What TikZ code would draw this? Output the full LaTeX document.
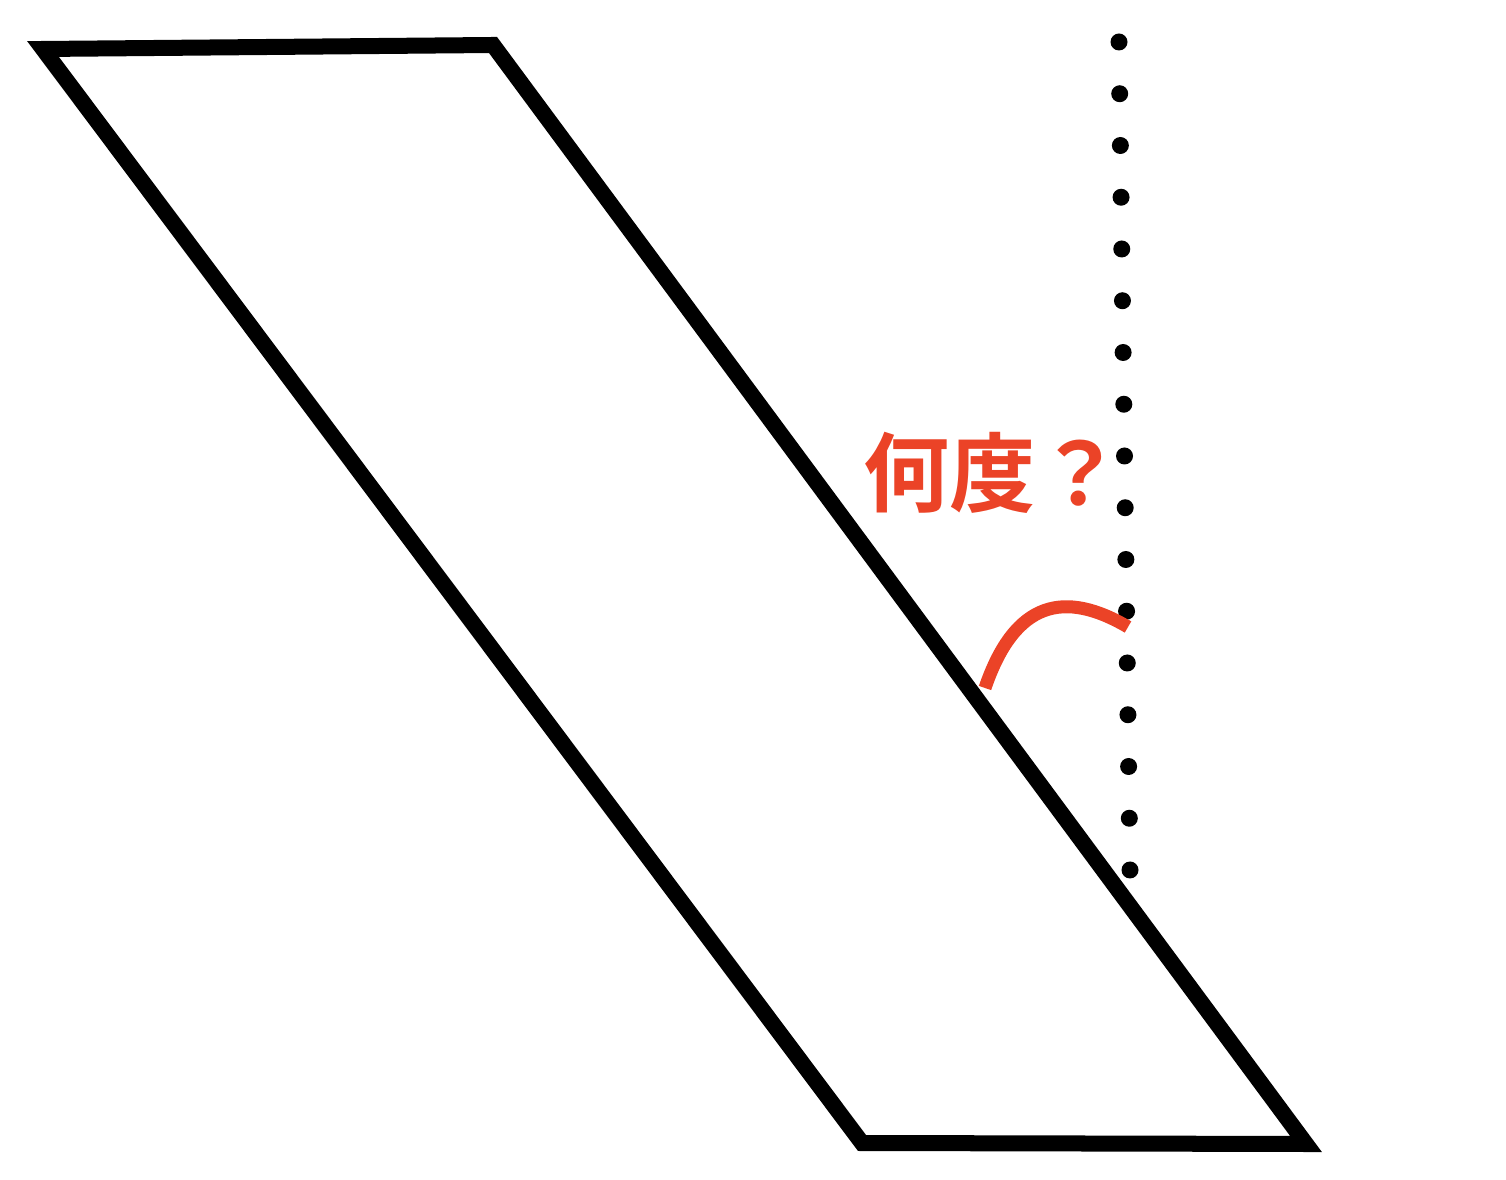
\documentclass[tikz,border=0pt]{standalone}
\usepackage{fontspec}
\newfontfamily\cjk{Noto Sans CJK JP Bold}
\definecolor{angred}{HTML}{EB4327}
\begin{document}
\begin{tikzpicture}[x=0.01cm,y=-0.01cm,
  shape line/.style={line width=16*0.2845pt, line join=miter, draw=black},
  angle arc/.style={line width=13*0.2845pt, draw=angred},
  dotmark/.style={fill=black}]
\useasboundingbox (0,0) rectangle (1506,1180);
\coordinate (tl) at (43,49);
\coordinate (tr) at (493,45);
\coordinate (br) at (1306,1144);
\coordinate (bl) at (862,1143);
\draw[shape line] (tl) -- (tr) -- (br) -- (bl) -- cycle;
\foreach \i in {0,...,16}{
  \fill[dotmark] ({1119+\i*11/16},{42+\i*51.75}) circle (8.5);
}
\coordinate (a0) at (985,688);
\coordinate (a1) at (1128,627);
\draw[angle arc] (a0) .. controls (1015,600) and (1065,590) .. (a1);
\node[text=angred, font=\cjk\fontsize{24.5}{29}\selectfont, inner sep=0pt] (q) at (993,473) {何度？};
\end{tikzpicture}
\end{document}
